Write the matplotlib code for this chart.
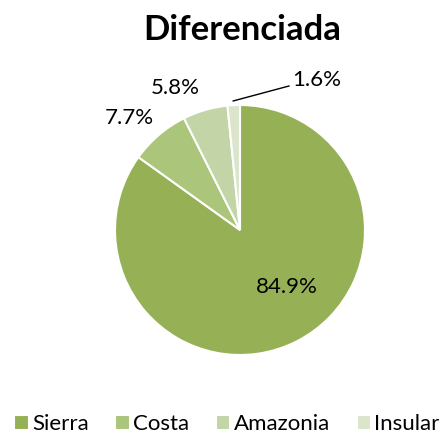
import matplotlib.pyplot as plt
import numpy as np

plt.rcParams['font.family'] = ['Lato', 'DejaVu Sans']

regions = ["Sierra", "Costa", "Amazonia", "Insular"]
shares = [84.9, 7.7, 5.8, 1.6]
colors = ["#96b155", "#abc57b", "#c3d5a6", "#dbe5cc"]

W, H = 444, 437
fig = plt.figure(figsize=(W / 100, H / 100), dpi=100)
ax = fig.add_axes([0, 0, 1, 1])

cx, cy, r = 240, H - 230, 125
wedges, texts, autotexts = ax.pie(
    shares, colors=colors, startangle=90, counterclock=False,
    center=(cx, cy), radius=r, autopct='%1.1f%%', pctdistance=0.6,
    wedgeprops=dict(edgecolor='white', linewidth=1.5),
    textprops=dict(fontsize=16, color='black'), frame=True)
ax.set_xlim(0, W)
ax.set_ylim(0, H)
ax.set_aspect('equal')
ax.axis('off')

# inside label for Sierra; outer labels for the small slices
autotexts[0].set_position((cx + 47, cy - 57))
out_pos = {1: (129, H - 118), 2: (175, H - 88)}
for i in (1, 2):
    autotexts[i].set_position(out_pos[i])
autotexts[3].set_visible(False)

ax.annotate("%.1f%%" % shares[3], xy=(233, H - 101), xytext=(292, H - 80),
            fontsize=16, va='center', ha='left',
            arrowprops=dict(arrowstyle='-', color='black', lw=1,
                            connectionstyle='angle,angleA=0,angleB=15,rad=0',
                            shrinkA=0, shrinkB=0, relpos=(0, 0.2)))

fig.text(242 / W, 1 - 30 / H, "Diferenciada", ha='center', va='center',
         fontsize=25, fontweight='bold')

ax.legend(wedges, regions, loc='center', bbox_to_anchor=(227 / W, 1 - 424 / H),
          bbox_transform=fig.transFigure, ncol=4, frameon=False, fontsize=16,
          handlelength=0.65, handleheight=0.65, handletextpad=0.15,
          columnspacing=1.2, borderaxespad=0, borderpad=0)

fig.savefig("out.png", dpi=100)
